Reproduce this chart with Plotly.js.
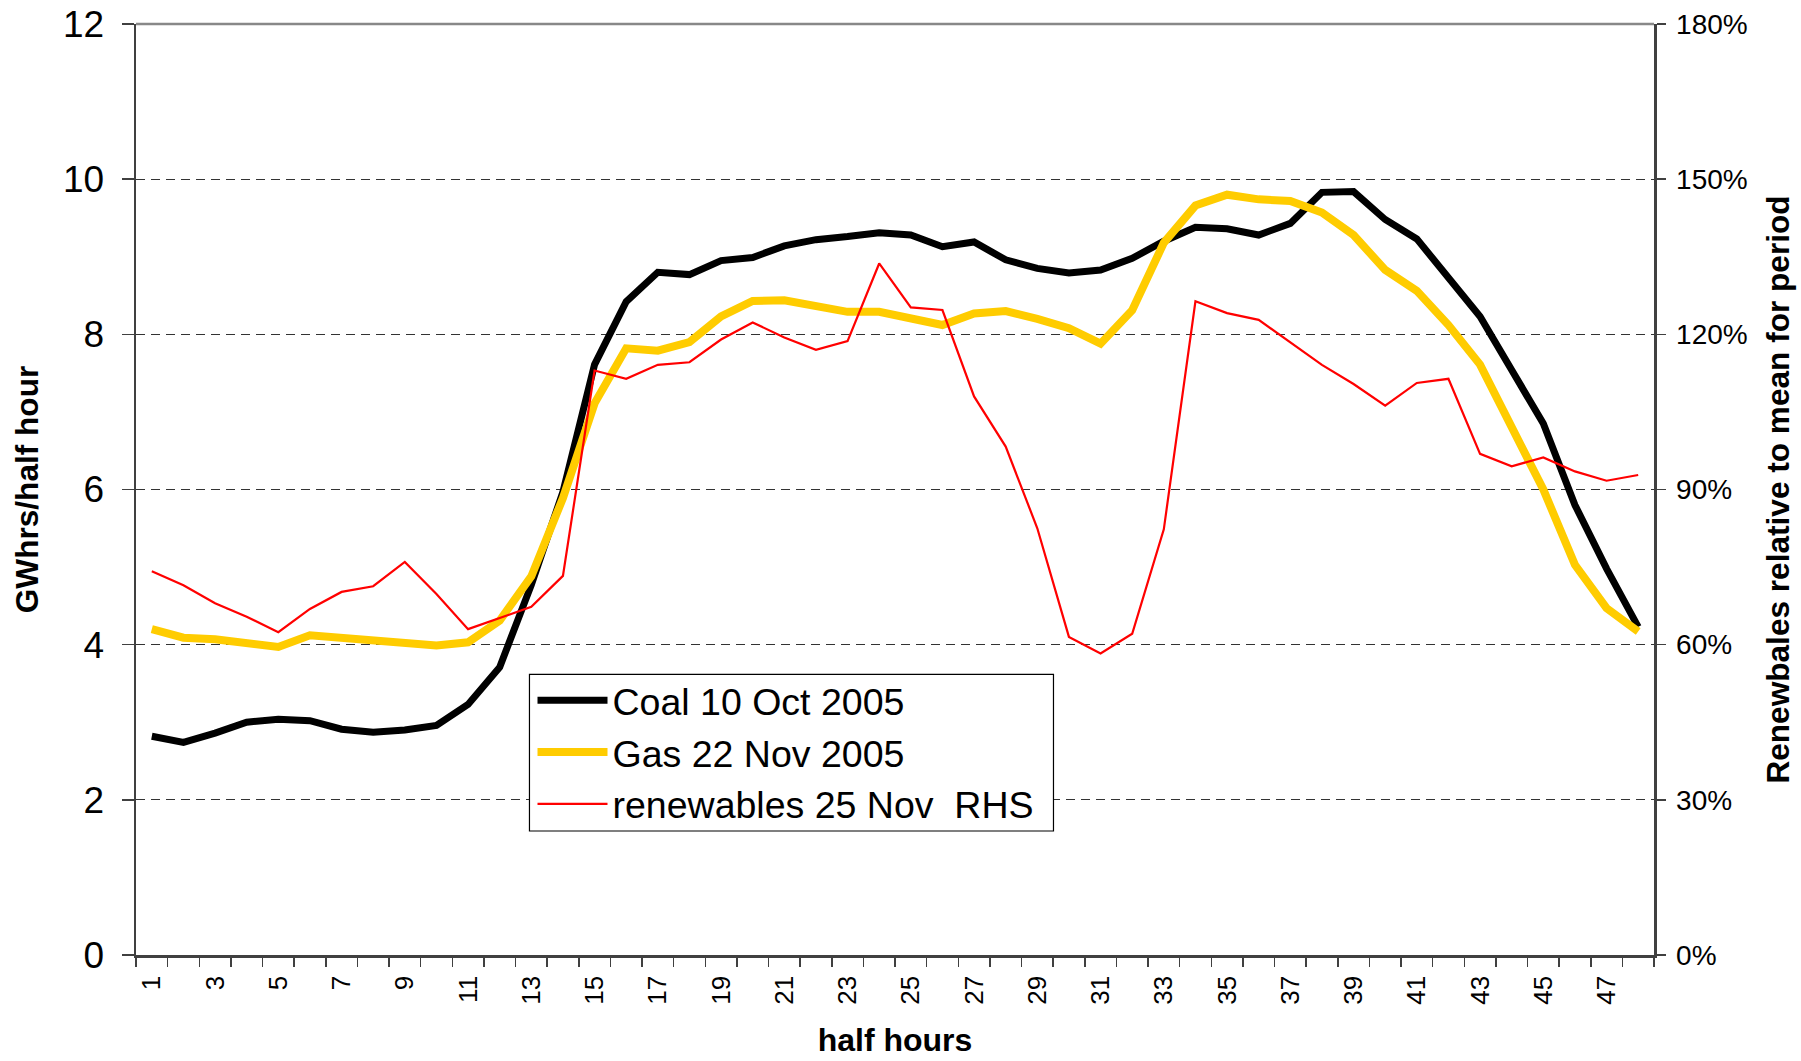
<!DOCTYPE html>
<html>
<head>
<meta charset="utf-8">
<script src="https://cdn.plot.ly/plotly-3.0.1.min.js"></script>
<style>
  html, body { margin: 0; padding: 0; background: #ffffff; }
  #chart { width: 1801px; height: 1061px; }
</style>
</head>
<body>
<div id="chart"></div>
<script>
// ---- data ----
const halfHours = [1,2,3,4,5,6,7,8,9,10,11,12,13,14,15,16,17,18,19,20,21,22,23,24,
                   25,26,27,28,29,30,31,32,33,34,35,36,37,38,39,40,41,42,43,44,45,46,47,48];

const coal10Oct2005 = [2.82,2.74,2.86,3.00,3.04,3.02,2.91,2.87,2.90,2.96,3.23,3.71,
                       4.77,5.97,7.61,8.42,8.80,8.77,8.95,8.99,9.14,9.22,9.26,9.31,
                       9.28,9.13,9.19,8.96,8.85,8.79,8.83,8.98,9.20,9.38,9.36,9.28,
                       9.43,9.83,9.84,9.48,9.23,8.72,8.23,7.54,6.85,5.80,4.98,4.23];

const gas22Nov2005 = [4.20,4.09,4.07,4.01,3.97,4.12,4.09,4.04,4.03,3.99,4.03,4.31,
                      4.88,5.89,7.11,7.82,7.79,7.90,8.23,8.43,8.44,8.36,8.29,8.29,
                      8.21,8.12,8.27,8.30,8.20,8.08,7.88,8.31,9.18,9.66,9.80,9.74,
                      9.72,9.57,9.28,8.83,8.56,8.12,7.61,6.81,6.00,5.03,4.47,4.17];

// renewables 25 Nov, percent of mean for period (right-hand scale)
const renewables25NovPct = [74.2,71.5,68.0,65.4,62.4,66.9,70.2,71.3,76.0,69.8,63.0,65.2,
                            67.3,73.3,113.0,111.4,114.1,114.6,119.0,122.3,119.4,117.0,118.7,133.7,
                            125.2,124.7,108.0,98.3,82.5,61.5,58.3,62.1,82.3,126.4,124.1,122.8,
                            118.5,114.1,110.4,106.2,110.6,111.4,96.9,94.5,96.2,93.5,91.7,92.8];

const seriesNames = ["Coal 10 Oct 2005", "Gas 22 Nov 2005", "renewables 25 Nov\u00A0 RHS"];

const xTickVals = [1,3,5,7,9,11,13,15,17,19,21,23,25,27,29,31,33,35,37,39,41,43,45,47];
const xTickText = xTickVals.map(String);
const leftTickVals = [0,2,4,6,8,10,12];
const rightTickVals = [0,30,60,90,120,150,180];
const rightTickText = rightTickVals.map(v => v + "%");

// ---- chart ----
const FONT = "Liberation Sans, Arial, Helvetica, sans-serif";

const traces = [
  { x: halfHours, y: coal10Oct2005, name: seriesNames[0], type: "scatter", mode: "lines",
    line: { color: "#000000", width: 7 }, xaxis: "x", yaxis: "y" },
  { x: halfHours, y: gas22Nov2005, name: seriesNames[1], type: "scatter", mode: "lines",
    line: { color: "#FFCC00", width: 8 }, xaxis: "x", yaxis: "y" },
  { x: halfHours, y: renewables25NovPct, name: seriesNames[2], type: "scatter", mode: "lines",
    line: { color: "#FF0000", width: 2.2 }, xaxis: "x", yaxis: "y2" }
];

const layout = {
  width: 1801,
  height: 1061,
  margin: { l: 136, r: 147, t: 24, b: 106, pad: 0 },
  paper_bgcolor: "#ffffff",
  plot_bgcolor: "#ffffff",
  font: { family: FONT, color: "#000000" },
  showlegend: true,
  legend: {
    x: 0.2612, y: 0.3067, xanchor: "left", yanchor: "top",
    bgcolor: "rgba(0,0,0,0)", borderwidth: 0,
    font: { family: FONT, size: 37.5, color: "#000000" },
    itemwidth: 70,
    traceorder: "normal"
  },
  xaxis: {
    range: [0.5, 48.5],
    tickmode: "array", tickvals: xTickVals, ticktext: xTickText,
    tickangle: -90, ticks: "", ticklabelstandoff: 8,
    tickfont: { family: FONT, size: 26, color: "#000000" },
    minor: { tickmode: "linear", tick0: 0.5, dtick: 1, ticks: "outside", ticklen: 9, tickwidth: 1.5, tickcolor: "#404040", showgrid: false },
    showline: true, linecolor: "#404040", linewidth: 2.5,
    showgrid: false, zeroline: false, automargin: false,
    title: { text: "half hours", font: { family: FONT, size: 32, color: "#000000", weight: "bold" }, standoff: 25 }
  },
  yaxis: {
    range: [0, 12], tickmode: "array", tickvals: leftTickVals,
    ticks: "outside", ticklen: 12, tickwidth: 1.5, tickcolor: "#404040",
    ticklabelstandoff: 10,
    tickfont: { family: FONT, size: 37, color: "#000000" },
    showline: true, linecolor: "#404040", linewidth: 2.5,
    showgrid: true, gridcolor: "#333333", gridwidth: 1.2, griddash: "9px,6px",
    zeroline: false, automargin: false,
    title: { text: "GWhrs/half hour", font: { family: FONT, size: 31.6, color: "#000000", weight: "bold" }, standoff: 15 }
  },
  yaxis2: {
    overlaying: "y", side: "right", range: [0, 180],
    tickmode: "array", tickvals: rightTickVals, ticktext: rightTickText,
    ticks: "outside", ticklen: 9, tickwidth: 1.5, tickcolor: "#404040",
    ticklabelstandoff: 5,
    tickfont: { family: FONT, size: 28, color: "#000000" },
    showline: true, linecolor: "#404040", linewidth: 2.5,
    showgrid: false, zeroline: false, automargin: false,
    title: { text: "Renewbales relative to mean for period", font: { family: FONT, size: 31.6, color: "#000000", weight: "bold" }, standoff: 20 }
  },
  shapes: [
    // plot-area top border
    { type: "line", xref: "paper", yref: "paper", x0: 0, x1: 1, y0: 1, y1: 1,
      line: { color: "#888888", width: 2.5 }, layer: "above" },
    // legend frame
    { type: "rect", xref: "paper", yref: "paper", x0: 0.2592, x1: 0.6044, y0: 0.1332, y1: 0.3015,
      fillcolor: "#ffffff", line: { color: "#000000", width: 1.2 }, layer: "above" }
  ]
};

Plotly.newPlot("chart", traces, layout, { displayModeBar: false, staticPlot: true });
</script>
</body>
</html>
